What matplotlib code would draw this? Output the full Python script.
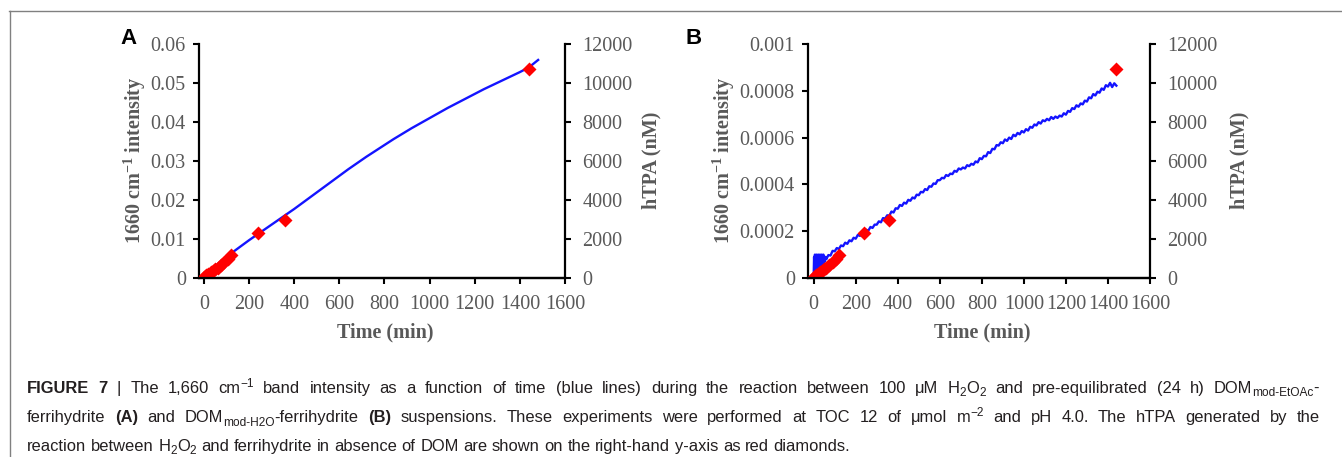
import re
import numpy as np
import matplotlib
matplotlib.use("Agg")
import matplotlib.pyplot as plt
from matplotlib.lines import Line2D

# ---------------- data ----------------
x_ticks = [0, 200, 400, 600, 800, 1000, 1200, 1400, 1600]
x_ticklabels = ["0", "200", "400", "600", "800", "1000", "1200", "1400", "1600"]
yA_ticks = [0, 0.01, 0.02, 0.03, 0.04, 0.05, 0.06]
yA_ticklabels = ["0", "0.01", "0.02", "0.03", "0.04", "0.05", "0.06"]
yB_ticks = [0, 0.0002, 0.0004, 0.0006, 0.0008, 0.001]
yB_ticklabels = ["0", "0.0002", "0.0004", "0.0006", "0.0008", "0.001"]
hTPA_ticks = [0, 2000, 4000, 6000, 8000, 10000, 12000]
hTPA_ticklabels = ["0", "2000", "4000", "6000", "8000", "10000", "12000"]

# panel A: 1660 cm-1 intensity (blue line)
time_A = [0, 40, 80, 120, 160, 200, 240, 280, 320, 360, 400, 440, 480, 520,
          560, 600, 640, 680, 720, 760, 800, 840, 880, 920, 960, 1000, 1040,
          1080, 1120, 1160, 1200, 1240, 1280, 1320, 1360, 1400, 1440, 1485]
intensity_A = [0.0005, 0.0025, 0.0045, 0.0063, 0.0080, 0.0097, 0.0113, 0.0129,
               0.0145, 0.0161, 0.0177, 0.0194, 0.0211, 0.0228, 0.0245, 0.0262,
               0.0279, 0.0295, 0.0311, 0.0326, 0.0341, 0.0356, 0.0370, 0.0384,
               0.0397, 0.0410, 0.0423, 0.0436, 0.0448, 0.0460, 0.0472, 0.0484,
               0.0495, 0.0506, 0.0517, 0.0528, 0.0540, 0.0561]

# panel B: 1660 cm-1 intensity (blue line), values in units of 1e-4
time_B_early = [0, 2, 4, 6, 8, 10, 12, 14, 16, 18, 20, 22, 24, 26, 28, 30,
                32, 34, 36, 38, 40, 42, 44, 46, 48, 50, 52, 54, 56, 58, 60]
intensity_B_early_e4 = [0.10, 0.90, 0.30, 1.00, 0.40, 0.90, 0.50, 1.00, 0.30,
                        0.90, 0.60, 1.00, 0.50, 0.90, 0.40, 1.00, 0.60, 0.90,
                        0.50, 1.00, 0.60, 0.90, 0.70, 1.00, 0.60, 0.80, 0.70,
                        0.90, 0.80, 0.90, 0.80]
time_B_late = list(range(70, 1441, 10))
intensity_B_late_e4 = [
    0.98, 0.96, 1.16, 1.14, 1.28, 1.24, 1.39, 1.36, 1.51, 1.46,
    1.61, 1.57, 1.72, 1.68, 1.84, 1.80, 1.94, 1.89, 2.06, 2.02,
    2.18, 2.14, 2.28, 2.28, 2.42, 2.38, 2.56, 2.54, 2.68, 2.66,
    2.84, 2.80, 2.98, 2.96, 3.12, 3.08, 3.22, 3.18, 3.34, 3.30,
    3.44, 3.40, 3.56, 3.54, 3.68, 3.66, 3.80, 3.76, 3.92, 3.90,
    4.04, 4.02, 4.18, 4.18, 4.28, 4.26, 4.40, 4.36, 4.46, 4.44,
    4.58, 4.54, 4.68, 4.64, 4.72, 4.68, 4.82, 4.78, 4.88, 4.84,
    4.98, 4.94, 5.12, 5.08, 5.22, 5.20, 5.38, 5.34, 5.52, 5.50,
    5.68, 5.66, 5.80, 5.76, 5.92, 5.86, 6.00, 5.94, 6.12, 6.06,
    6.20, 6.14, 6.28, 6.22, 6.36, 6.30, 6.46, 6.42, 6.56, 6.52,
    6.66, 6.60, 6.74, 6.70, 6.80, 6.74, 6.88, 6.80, 6.90, 6.84,
    6.94, 6.90, 7.04, 6.98, 7.14, 7.10, 7.26, 7.22, 7.38, 7.32,
    7.46, 7.42, 7.58, 7.54, 7.72, 7.68, 7.86, 7.80, 7.96, 7.92,
    8.10, 8.04, 8.24, 8.18, 8.34, 8.16, 8.32, 8.22]

# hTPA (nM), red diamonds, right axis (same in both panels)
hTPA_time = [0, 10, 20, 30, 40, 50, 60, 75, 90, 105, 120, 240, 360, 1440]
hTPA_nM = [50, 130, 220, 300, 380, 450, 520, 650, 800, 1000, 1200, 2330, 3000, 10700]

caption_lines = [
    "**FIGURE 7** | The 1,660 cm^{−1} band intensity as a function of time (blue lines) during the reaction between 100 μM H_{2}O_{2} and pre-equilibrated (24 h) DOM_{mod-EtOAc}-",
    "ferrihydrite **(A)** and DOM_{mod-H2O}-ferrihydrite **(B)** suspensions. These experiments were performed at TOC 12 of μmol m^{−2} and pH 4.0. The hTPA generated by the",
    "reaction between H_{2}O_{2} and ferrihydrite in absence of DOM are shown on the right-hand y-axis as red diamonds.",
]

# ---------------- style ----------------
W, H = 1342, 457
plt.rcParams["mathtext.fontset"] = "custom"
plt.rcParams["mathtext.rm"] = "Liberation Serif:bold"
plt.rcParams["mathtext.default"] = "rm"

GRAY = "#595959"
BLUE = "#1414ff"
SERIF = "Liberation Serif"
SANS = "Liberation Sans"
TICK_FS = 14.5
LAB_FS = 14.5

fig = plt.figure(figsize=(W / 100, H / 100), dpi=100)
fig.patch.set_facecolor("white")


def fx(px):
    return px / W


def fy(py):
    return 1 - py / H


def make_axes(left, right, top, bottom):
    return fig.add_axes([fx(left), fy(bottom), fx(right) - fx(left), (bottom - top) / H])


def style_axes(ax, ax2, yticks, yticklabels, xlim):
    ax.set_xlim(*xlim)
    ax.set_ylim(yticks[0], yticks[-1])
    ax.set_xticks(x_ticks)
    ax.set_xticklabels(x_ticklabels)
    ax.set_yticks(yticks)
    ax.set_yticklabels(yticklabels)
    ax2.set_ylim(hTPA_ticks[0], hTPA_ticks[-1])
    ax2.set_yticks(hTPA_ticks)
    ax2.set_yticklabels(hTPA_ticklabels)
    for a in (ax, ax2):
        a.spines["top"].set_visible(False)
        for s in a.spines.values():
            s.set_linewidth(1.6)
            s.set_color("black")
        a.tick_params(direction="out", length=4.5, width=1.5, colors="black",
                      labelcolor=GRAY, labelsize=TICK_FS)
        for lab in a.get_xticklabels() + a.get_yticklabels():
            lab.set_fontfamily(SERIF)
    ax.spines["right"].set_visible(False)
    ax2.spines["left"].set_visible(False)
    ax.tick_params(axis="x", pad=8)
    ax.tick_params(axis="y", pad=5)
    ax2.tick_params(axis="y", pad=8)
    ax.patch.set_alpha(0)


# ---- panel A ----
axA = make_axes(199, 565, 44, 278)
axA.plot(time_A, intensity_A, color=BLUE, lw=1.7, solid_capstyle="butt")
axA2 = axA.twinx()
axA2.plot(hTPA_time, hTPA_nM, linestyle="none", marker="D", ms=7.5,
          color="#ff0000", mec="none")
style_axes(axA, axA2, yA_ticks, yA_ticklabels, (-22, 1600))

# ---- panel B ----
axB = make_axes(808, 1150, 44, 278)
time_B = time_B_early + time_B_late
intensity_B = [v * 1e-4 for v in intensity_B_early_e4 + intensity_B_late_e4]
axB.plot(time_B, intensity_B, color=BLUE, lw=1.7)
axB2 = axB.twinx()
axB2.plot(hTPA_time, hTPA_nM, linestyle="none", marker="D", ms=7.5,
          color="#ff0000", mec="none")
style_axes(axB, axB2, yB_ticks, yB_ticklabels, (-27, 1600))

# ---- axis labels ----
ylab = "1660 cm$^{-1}$ intensity"
lab_kw = dict(fontsize=LAB_FS, fontweight="bold", color=GRAY, family=SERIF)
fig.text(fx(135), fy(160), ylab, rotation=90, ha="center", va="center", **lab_kw)
fig.text(fx(724), fy(160), ylab, rotation=90, ha="center", va="center", **lab_kw)
fig.text(fx(651), fy(160), "hTPA (nM)", rotation=90, ha="center", va="center", **lab_kw)
fig.text(fx(1239), fy(160), "hTPA (nM)", rotation=90, ha="center", va="center", **lab_kw)
fig.text(fx(385), fy(332), "Time (min)", ha="center", va="center", **lab_kw)
fig.text(fx(982), fy(332), "Time (min)", ha="center", va="center", **lab_kw)

fig.text(fx(120), fy(38), "A", fontsize=16, fontweight="bold", family=SANS,
         color="black", ha="left", va="center")
fig.text(fx(686), fy(38), "B", fontsize=16, fontweight="bold", family=SANS,
         color="black", ha="left", va="center")

# ---- frame lines ----
fig.add_artist(Line2D([fx(9), 1.0], [fy(10.5), fy(10.5)], transform=fig.transFigure,
                      color="#808080", lw=1.0))
fig.add_artist(Line2D([fx(9.5), fx(9.5)], [fy(10.5), 0.0], transform=fig.transFigure,
                      color="#808080", lw=1.0))

# ---- caption with inline bold / sub / superscripts ----
CAP_FS = 11.9
CAP_COLOR = "#231f20"
fig.canvas.draw()
renderer = fig.canvas.get_renderer()

STYLES = {
    "n": dict(size=CAP_FS, weight="normal", dy=0.0),
    "b": dict(size=CAP_FS, weight="bold", dy=0.0),
    "sub": dict(size=CAP_FS * 0.72, weight="normal", dy=-3.5),
    "sup": dict(size=CAP_FS * 0.72, weight="normal", dy=6.0),
}


def text_kw(style):
    st = STYLES[style]
    return dict(fontsize=st["size"], fontweight=st["weight"], family=SANS,
                color=CAP_COLOR)


def measure(s, style):
    t = fig.text(0, 0, s, **text_kw(style))
    w = t.get_window_extent(renderer).width
    t.remove()
    return w


def parse(line):
    tokens = []
    pending = False
    pieces = re.split(r"(\*\*.+?\*\*|_\{.+?\}|\^\{.+?\})", line)
    for piece in pieces:
        if not piece:
            continue
        if piece.startswith("**"):
            style, txt = "b", piece[2:-2]
        elif piece.startswith("_{"):
            style, txt = "sub", piece[2:-1]
        elif piece.startswith("^{"):
            style, txt = "sup", piece[2:-1]
        else:
            style, txt = "n", piece
        parts = txt.split(" ")
        for i, p in enumerate(parts):
            if i > 0:
                pending = True
            if p:
                tokens.append((p, style, pending))
                pending = False
    return tokens


space_w = measure("a a", "n") - measure("aa", "n")
x_start = 27
baselines = [393, 422, 451]
justify = [1319, 1320, None]
for line, base, jr in zip(caption_lines, baselines, justify):
    toks = parse(line)
    widths = [measure(t, s) for t, s, _ in toks]
    nsp = sum(1 for _, _, sp in toks if sp)
    natural = sum(widths) + nsp * space_w
    extra = (jr - x_start - natural) / nsp if (jr and nsp) else 0.0
    extra = max(extra, -0.45 * space_w)
    x = x_start
    for (t, s, sp), w in zip(toks, widths):
        if sp:
            x += space_w + extra
        fig.text(fx(x), fy(base - STYLES[s]["dy"]), t, ha="left", va="baseline",
                 **text_kw(s))
        x += w

fig.savefig("out.png", dpi=100, facecolor="white")
